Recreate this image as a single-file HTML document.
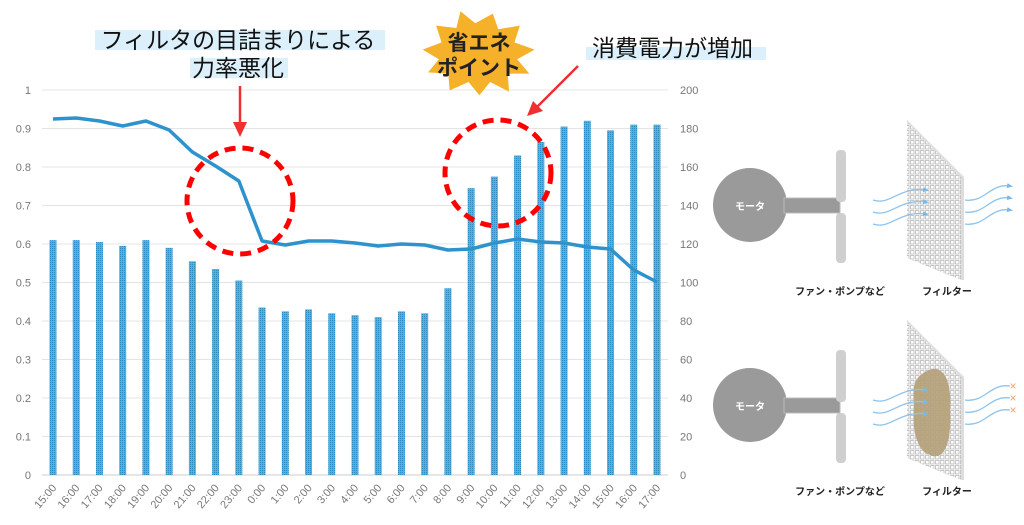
<!DOCTYPE html>
<html><head><meta charset="utf-8"><style>
body{margin:0;background:#fff;width:1024px;height:525px;overflow:hidden}
svg{display:block;font-family:"Liberation Sans","Noto Sans CJK JP",sans-serif}
</style></head><body>
<svg id="s" width="1024" height="525" viewBox="0 0 1024 525" xmlns="http://www.w3.org/2000/svg">
<defs>
<pattern id="hb" width="2" height="2" patternUnits="userSpaceOnUse"><rect width="2" height="2" fill="#5aaed8"/><rect width="1" height="1" fill="#2a8cc4"/></pattern>
<pattern id="mesh" width="5" height="5" patternUnits="userSpaceOnUse"><rect width="5" height="5" fill="#fff"/><rect x="0.5" y="0.5" width="3.5" height="3.5" fill="none" stroke="#b0b0b0" stroke-width="0.7"/></pattern>
<marker id="ar" markerUnits="userSpaceOnUse" markerWidth="6" markerHeight="6" refX="3" refY="3" orient="auto"><path d="M0,0.5L6,3L0,5.5z" fill="#7ab8e8"/></marker>
</defs>
<g id="grid"></g>
<g id="bars"></g>
<polyline id="line" fill="none" stroke="#2e93cc" stroke-width="3.5" stroke-linejoin="round"/>
<g id="lab" font-size="11" fill="#777"></g>
<rect x="95" y="30" width="290" height="20" fill="#dcf0fb"/>
<rect x="190" y="58" width="98" height="20" fill="#dcf0fb"/>
<text x="238" y="48" font-size="23" text-anchor="middle" fill="#111">フィルタの目詰まりによる</text>
<text x="238" y="76" font-size="23" text-anchor="middle" fill="#111">力率悪化</text>
<line x1="240" y1="86" x2="240" y2="124" stroke="#f03030" stroke-width="2.5"/>
<path d="M233,122L247,122L240,137z" fill="#f03030"/>
<circle cx="240" cy="201" r="53" fill="none" stroke="#f00" stroke-width="5" stroke-dasharray="11,7"/>
<rect x="586" y="47" width="180" height="13" fill="#dcf0fb"/>
<text x="592" y="56" font-size="23" fill="#111">消費電力が増加</text>
<line x1="578" y1="66" x2="536" y2="108" stroke="#f03030" stroke-width="2.5"/>
<path d="M527,116L533,101L543,111z" fill="#f03030"/>
<circle cx="498" cy="173" r="53" fill="none" stroke="#f00" stroke-width="5" stroke-dasharray="11,7"/>
<g transform="translate(478,52) scale(1.35,1.2) translate(-481,-52)">
<polygon points="468,18 479,28 492,20 496,33 512,30 508,44 523,50 510,58 519,70 503,70 504,85 490,77 482,88 474,77 460,84 459,70 444,69 452,58 440,50 454,44 450,30 465,32" fill="#f5b12a"/>
</g>
<text x="479" y="50" font-size="21" font-weight="bold" text-anchor="middle" fill="#222">省エネ</text>
<text x="479" y="75" font-size="21" font-weight="bold" text-anchor="middle" fill="#222">ポイント</text>
<g id="dg"></g>
</svg>
<script>
const NS="http://www.w3.org/2000/svg";
function el(p,t,a,txt){const e=document.createElementNS(NS,t);for(const k in a)e.setAttribute(k,a[k]);if(txt!=null)e.textContent=txt;document.getElementById(p).appendChild(e);return e;}
const y0=475,h=385;
for(let i=0;i<=10;i++){const y=y0-h*i/10;
 el('grid','line',{x1:42,x2:668,y1:y,y2:y,stroke:i==0?'#ccc':'#e4e4e4','stroke-width':1});
 el('lab','text',{x:31,y:y+4,'text-anchor':'end'},i==10?'1':i==0?'0':(i/10).toFixed(1));
 el('lab','text',{x:680,y:y+4},String(i*20));}
const bars=[122,122,121,119,122,118,111,107,101,87,85,86,84,83,82,85,84,97,149,155,166,173,181,184,179,182,182];
const ly=[119,118,121,126,121,130,152,166,181,241,245,241,241,243,246,244,245,250,249,243,239,242,243,247,249,270,282];
const labs=["15:00","16:00","17:00","18:00","19:00","20:00","21:00","22:00","23:00","0:00","1:00","2:00","3:00","4:00","5:00","6:00","7:00","8:00","9:00","10:00","11:00","12:00","13:00","14:00","15:00","16:00","17:00"];
let pts=[];
bars.forEach((v,i)=>{const x=53+i*23.23;const t=y0-v/200*h;
 el('bars','rect',{x:x-3.5,y:t,width:7,height:y0-t,fill:'url(#hb)'});
 pts.push(x+','+ly[i]);
 el('lab','text',{x:x+4,y:488,'text-anchor':'end',transform:`rotate(-50 ${x+4} 488)`},labs[i]);});
document.getElementById('line').setAttribute('points',pts.join(' '));
function diag(dy,dirty){
 el('dg','circle',{cx:750,cy:205+dy,r:37,fill:'#9a9a9a'});
 el('dg','text',{x:750,y:210+dy,'font-size':10,fill:'#fff','text-anchor':'middle','font-weight':'bold'},'モータ');
 el('dg','rect',{x:784,y:198+dy,width:56,height:15,fill:'#9a9a9a',stroke:'#bbb'});
 el('dg','rect',{x:836,y:150+dy,width:10,height:52,rx:4,fill:'#cfcfcf'});
 el('dg','rect',{x:836,y:213+dy,width:10,height:50,rx:4,fill:'#cfcfcf'});
 el('dg','polygon',{points:`907,${120+dy} 961,${177+dy} 961,${280+dy} 907,${258+dy}`,fill:'url(#mesh)'});
 el('dg','polygon',{points:`907,${120+dy} 964,${177+dy} 964,${280+dy} 961,${280+dy} 961,${177+dy} 907,${122+dy}`,fill:'#ddd'});
 if(dirty) el('dg','path',{d:`M925,${172+dy} C945,${160+dy} 952,${185+dy} 950,${210+dy} C952,${240+dy} 945,${262+dy} 930,${255+dy} C915,${250+dy} 912,${225+dy} 914,${205+dy} C912,${185+dy} 915,${178+dy} 925,${172+dy}z`,fill:'#b4a078',opacity:0.9});
 for(let k=0;k<3;k++){const o=k*12;
  el('dg','path',{d:`M873,${200+o+dy} C890,${206+o+dy} 900,${186+o+dy} 926,${190+o+dy}`,fill:'none',stroke:'#8cc4ee','stroke-width':1.3,'marker-end':'url(#ar)'});
  el('dg','path',{d:`M965,${200+o+dy} C985,${203+o+dy} 990,${183+o+dy} 1010,${186+o+dy}`,fill:'none',stroke:'#8cc4ee','stroke-width':1.3,'marker-end':dirty?'':'url(#ar)'});
  if(dirty) el('dg','text',{x:1013,y:190+o+dy,'font-size':12,fill:'#f0a070','text-anchor':'middle'},'×');}
 el('dg','text',{x:840,y:295+dy,'font-size':10,'font-weight':'bold','text-anchor':'middle',fill:'#222'},'ファン・ポンプなど');
 el('dg','text',{x:947,y:295+dy,'font-size':10,'font-weight':'bold','text-anchor':'middle',fill:'#222'},'フィルター');}
diag(0,false);diag(200,true);
</script>
</body></html>
